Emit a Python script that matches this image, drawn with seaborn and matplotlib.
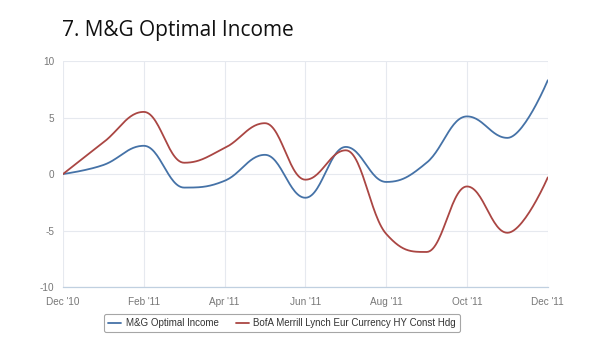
import numpy as np
import pandas as pd
import matplotlib
matplotlib.use("Agg")
import matplotlib.pyplot as plt
import seaborn as sns

months = ["Dec '10", "Jan '11", "Feb '11", "Mar '11", "Apr '11", "May '11", "Jun '11",
          "Jul '11", "Aug '11", "Sep '11", "Oct '11", "Nov '11", "Dec '11"]
mg_optimal = [0.0, 0.8, 2.5, -1.2, -0.6, 1.7, -2.1, 2.4, -0.7, 1.0, 5.1, 3.2, 8.3]
bofa_hy = [0.0, 2.8, 5.5, 1.0, 2.3, 4.5, -0.5, 2.1, -5.3, -6.9, -1.1, -5.2, -0.3]
series_names = ["M&G Optimal Income", "BofA Merrill Lynch Eur Currency HY Const Hdg"]
colors = ["#4572A7", "#AA4643"]
x_tick_labels = ["Dec '10", "Feb '11", "Apr '11", "Jun '11", "Aug '11", "Oct '11", "Dec '11"]
y_ticks = [-10, -5, 0, 5, 10]


def spline_curve(xs, ys, n=30):
    """Highcharts-style spline rendering of the data points (display smoothing)."""
    xs = np.asarray(xs, float)
    ys = np.asarray(ys, float)
    m = len(xs)
    lc = [(x, y) for x, y in zip(xs, ys)]
    rc = [(x, y) for x, y in zip(xs, ys)]
    s, d = 1.5, 2.5
    for i in range(1, m - 1):
        px, py = xs[i - 1], ys[i - 1]
        x, y = xs[i], ys[i]
        nx, ny = xs[i + 1], ys[i + 1]
        lcx, lcy = (s * x + px) / d, (s * y + py) / d
        rcx, rcy = (s * x + nx) / d, (s * y + ny) / d
        if rcx != lcx:
            corr = ((rcy - lcy) * (rcx - x)) / (rcx - lcx) + y - rcy
            lcy += corr
            rcy += corr
        if lcy > max(py, y):
            lcy = max(py, y); rcy = 2 * y - lcy
        elif lcy < min(py, y):
            lcy = min(py, y); rcy = 2 * y - lcy
        if rcy > max(y, ny):
            rcy = max(y, ny); lcy = 2 * y - rcy
        elif rcy < min(y, ny):
            rcy = min(y, ny); lcy = 2 * y - rcy
        lc[i] = (lcx, lcy)
        rc[i] = (rcx, rcy)
    outx, outy = [xs[0]], [ys[0]]
    t = np.linspace(0, 1, n)[1:]
    for i in range(1, m):
        p0 = np.array([xs[i - 1], ys[i - 1]])
        p1 = np.array(rc[i - 1])
        p2 = np.array(lc[i])
        p3 = np.array([xs[i], ys[i]])
        pts = ((1 - t)[:, None] ** 3 * p0 + 3 * ((1 - t) ** 2 * t)[:, None] * p1
               + 3 * ((1 - t) * t ** 2)[:, None] * p2 + (t ** 3)[:, None] * p3)
        outx.extend(pts[:, 0]); outy.extend(pts[:, 1])
    return np.array(outx), np.array(outy)


sns.set_style("white")
plt.rcParams['font.family'] = ['Liberation Sans', 'DejaVu Sans']
plt.rcParams['axes.unicode_minus'] = False

fig = plt.figure(figsize=(6.0, 3.53), dpi=100)
ax = fig.add_axes([0.105, 0.187, 0.808, 0.640])

frames = []
for name, vals in zip(series_names, [mg_optimal, bofa_hy]):
    cx, cy = spline_curve(np.arange(len(months)), vals)
    frames.append(pd.DataFrame({"x": cx, "y": cy, "series": name}))
df = pd.concat(frames, ignore_index=True)

sns.lineplot(data=df, x="x", y="y", hue="series", hue_order=series_names,
             palette=colors, sort=False, estimator=None, linewidth=1.3, ax=ax)

ax.set_xlim(0, 12)
ax.set_ylim(-10, 10)
ax.set_xticks(range(0, 13, 2))
ax.set_xticklabels(x_tick_labels)
ax.set_yticks(y_ticks)
ax.set_xlabel("")
ax.set_ylabel("")

ax.grid(True, color="#e6e9ef", linewidth=0.8)
ax.set_axisbelow(True)
for side in ["top", "right", "left"]:
    ax.spines[side].set_visible(False)
ax.spines["bottom"].set_color("#c0d0e0")
ax.spines["bottom"].set_linewidth(0.9)
ax.tick_params(axis="x", colors="#c0d0e0", length=4, width=0.8, labelsize=7.2,
               labelcolor="#777777", pad=3)
ax.tick_params(axis="y", length=0, labelsize=7.2, labelcolor="#777777", pad=6)

ax.legend_.remove()
handles = [plt.Line2D([0], [0], color=c, linewidth=1.3) for c in colors]
leg = fig.legend(handles, series_names, loc="center", bbox_to_anchor=(0.470, 0.085),
                 ncol=2, fontsize=7.0, frameon=True, handlelength=1.3,
                 columnspacing=1.8, handletextpad=0.5, borderpad=0.45,
                 fancybox=True)
leg.get_frame().set_edgecolor("#909090")
leg.get_frame().set_linewidth(0.8)
for t in leg.get_texts():
    t.set_color("#333333")

fig.text(0.103, 0.915, "7. M&G Optimal Income", fontsize=15, color="#111111",
         family=["Open Sans", "DejaVu Sans"], va="center", ha="left")

fig.savefig("out.png", dpi=100, facecolor="white")
